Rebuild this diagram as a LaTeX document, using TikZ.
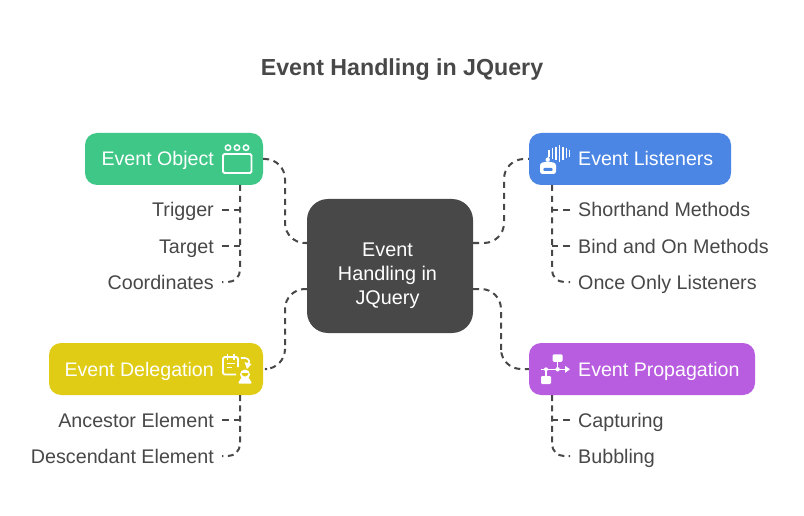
\documentclass[tikz,border=0pt]{standalone}
\usepackage{fontspec}
\setmainfont{Liberation Sans}
\definecolor{ink}{HTML}{484848}
\definecolor{cgreen}{HTML}{3EC787}
\definecolor{cblue}{HTML}{4B86E4}
\definecolor{cyellow}{HTML}{E0CC14}
\definecolor{cpurple}{HTML}{B85CE0}
\tikzset{
  box/.style={inner sep=0pt,rounded corners=12pt,minimum height=52pt},
  head/.style={text=white,inner sep=0pt,font=\fontsize{19.6}{23}\selectfont},
  item/.style={text=ink,inner sep=0pt,font=\fontsize{19.7}{23}\selectfont},
  conn/.style={draw=ink,line width=2pt,dash pattern=on 6pt off 4.6pt},
  branch/.style={draw=ink,line width=2pt,dash pattern=on 6.6pt off 5.6pt},
}
\begin{document}
\begin{tikzpicture}[x=1pt,y=-1pt]
\useasboundingbox (0,0) rectangle (804,516);
\fill[white] (0,0) rectangle (804,516);
\node[anchor=base,text=ink,inner sep=0pt,font=\bfseries\fontsize{23.2}{28}\selectfont] (title) at (402,76) {Event Handling in JQuery};
% centre
\node[inner sep=0pt,fill=ink,rounded corners=21pt,minimum width=166pt,minimum height=134pt] (center) at (390,266) {};
\node[text=white,inner sep=0pt,align=center,font=\fontsize{19.8}{24}\selectfont] (centert) at (387.5,275.5) {Event\\Handling in\\JQuery};
% boxes
\node[box,fill=cgreen,minimum width=178pt] (obj) at (174,159) {};
\node[box,fill=cblue,minimum width=202pt] (lis) at (630,159) {};
\node[box,fill=cyellow,minimum width=214pt] (del) at (156,369) {};
\node[box,fill=cpurple,minimum width=226pt] (pro) at (642,369) {};
\node[head,anchor=base east] (objt) at (214,166) {Event Object};
\node[head,anchor=base west] (list) at (578,166) {Event Listeners};
\node[head,anchor=base east] (delt) at (214,376) {Event Delegation};
\node[head,anchor=base west] (prot) at (578,376) {Event Propagation};
% items
\node[item,anchor=base east] (i1) at (214,217) {Trigger};
\node[item,anchor=base east] (i2) at (214,253) {Target};
\node[item,anchor=base east] (i3) at (214,289) {Coordinates};
\node[item,anchor=base west] (i4) at (578,217) {Shorthand Methods};
\node[item,anchor=base west] (i5) at (578,253) {Bind and On Methods};
\node[item,anchor=base west] (i6) at (578,289) {Once Only Listeners};
\node[item,anchor=base east] (i7) at (214,427) {Ancestor Element};
\node[item,anchor=base east] (i8) at (214,463) {Descendant Element};
\node[item,anchor=base west] (i9) at (578,427) {Capturing};
\node[item,anchor=base west] (i10) at (578,463) {Bubbling};
% named connector ends
\coordinate (c1) at (307,243);
\coordinate (c2) at (473,243);
\coordinate (c3) at (307,289);
\coordinate (c4) at (473,289);
\coordinate (dels) at (267,369);
\coordinate (sp1) at (285,200);
\coordinate (sp2) at (504,200);
\coordinate (sp3) at (285,330);
\coordinate (sp4) at (501,330);
% main connectors
\draw[conn,rounded corners=20pt] (obj.east) -| (sp1) |- (c1);
\draw[conn,dash pattern=on 6pt off 5.08pt,rounded corners=20pt] (c2) -| (sp2) |- (lis.west);
\draw[conn,rounded corners=20pt] (c3) -| (sp3) |- (dels);
\draw[conn,rounded corners=20pt] (c4) -| (sp4) |- (pro.west);
% item connectors
\coordinate (a0) at (240,185); \coordinate (b0) at (552,185);
\coordinate (a1) at (240,395); \coordinate (b1) at (552,395);
\coordinate (e1) at (222,210); \coordinate (e2) at (222,246); \coordinate (e3) at (222,282);
\coordinate (e4) at (570,210); \coordinate (e5) at (570,246); \coordinate (e6) at (570,282);
\coordinate (e7) at (222,420); \coordinate (e8) at (222,456);
\coordinate (e9) at (570,420); \coordinate (e10) at (570,456);
\draw[conn,dash pattern=on 6pt off 4.83pt,rounded corners=12pt] (a0) |- (e3);
\draw[branch] (e1) -- (e1 -| a0);
\draw[branch] (e2) -- (e2 -| a0);
\draw[conn,dash pattern=on 6pt off 4.83pt,rounded corners=12pt] (b0) |- (e6);
\draw[branch] (e4) -- (e4 -| b0);
\draw[branch] (e5) -- (e5 -| b0);
\draw[conn,dash pattern=on 6pt off 4.33pt,rounded corners=12pt] (a1) |- (e8);
\draw[branch] (e7) -- (e7 -| a1);
\draw[conn,dash pattern=on 6pt off 4.33pt,rounded corners=12pt] (b1) |- (e10);
\draw[branch] (e9) -- (e9 -| b1);
% icon: window
\draw[white,line width=1.8pt,rounded corners=1.5pt] (223,154) rectangle (251.5,173);
\foreach \x in {228,237,246} \draw[white,line width=1.5pt] (\x,147.7) circle (2.7pt);
% icon: robot and sound
\fill[white,rounded corners=2.5pt] (540,174) -- (540,163) -- (547.7,161.5) -- (556,163) -- (556,174) -- cycle;
\fill[cblue,rounded corners=1pt] (543.3,168) rectangle (552.7,171);
\draw[white,line width=1.2pt] (547.7,160) -- (549,155);
\fill[white] (547.7,159.7) circle (2.2pt);
\foreach \x/\h in {549/3.3,552.3/5.5,555.8/6.7,559.2/8.3,562.8/6.3,566.2/5,569.3/3.2}
  \draw[white,line width=1.4pt] (\x,153.4-\h) -- (\x,153.4+\h);
% icon: calendar with person
\draw[white,line width=1.8pt,rounded corners=2pt] (238,367) -- (238,357) -- (223,357) -- (223,374.5) -- (236,374.5);
\draw[white,line width=1.7pt] (227.5,354) -- (227.5,359.5) (234,354) -- (234,359.5);
\draw[white,line width=1.5pt] (226.5,363.5) -- (235,363.5) (226.5,367.5) -- (232,367.5);
\draw[white,line width=1.6pt] (241,358) .. controls (247,357) and (251,360) .. (248.5,364);
\fill[white] (244.5,362) -- (251.5,364) -- (247,369) -- cycle;
\fill[white,rounded corners=1pt] (238,383.5) -- (241,378) -- (249,378) -- (252,383.5) -- cycle;
\fill[white] (245,374.5) circle (5pt);
\fill[cyellow] (241.5,373) arc[start angle=180,end angle=360,radius=3.5pt] -- cycle;
% icon: flow
\fill[white,rounded corners=1.2pt] (552.7,354.3) rectangle (562.5,361.8);
\fill[white,rounded corners=1.2pt] (541,376) rectangle (551,384);
\draw[white,line width=1.3pt] (540.7,369.3) -- (567,369.3) (557.6,361) -- (557.6,369.3) (546,369.3) -- (546,377);
\fill[white] (546,369.3) circle (2pt) (557.6,369.3) circle (2.2pt);
\fill[white] (570,369.3) -- (565,365.8) -- (565,372.8) -- cycle;
\end{tikzpicture}
\end{document}
